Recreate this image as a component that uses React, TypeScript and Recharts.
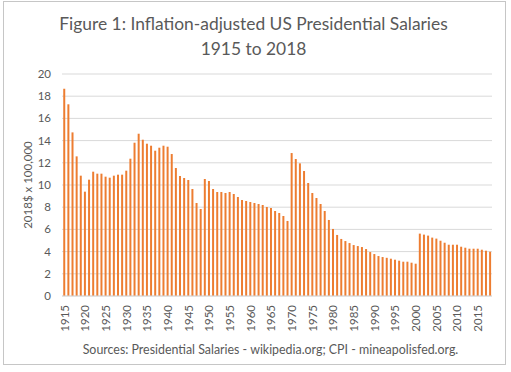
import React from 'react';
import { BarChart, Bar, XAxis, YAxis, CartesianGrid } from 'recharts';

const FIRST_YEAR = 1915;
const salaries1915to1944 = [
  18.68, 17.27, 14.74, 12.58, 10.84, 9.4, 10.48, 11.2, 11.02, 11.02,
  10.75, 10.66, 10.84, 10.93, 10.93, 11.29, 12.37, 13.81, 14.62, 14.08,
  13.72, 13.54, 13.09, 13.36, 13.54, 13.45, 12.79, 11.53, 10.81, 10.63,
];
const salaries1945to1974 = [
  10.45, 9.64, 8.38, 7.84, 10.54, 10.36, 9.64, 9.37, 9.37, 9.28,
  9.37, 9.19, 8.92, 8.65, 8.56, 8.47, 8.38, 8.29, 8.2, 8.02,
  7.93, 7.66, 7.48, 7.21, 6.76, 12.88, 12.34, 11.95, 11.26, 10.18,
];
const salaries1975to2004 = [
  9.28, 8.83, 8.29, 7.66, 6.85, 6.04, 5.5, 5.14, 4.95, 4.77,
  4.59, 4.5, 4.41, 4.23, 3.96, 3.78, 3.6, 3.51, 3.44, 3.36,
  3.27, 3.18, 3.09, 3.09, 3.0, 2.91, 5.62, 5.53, 5.44, 5.26,
];
const salaries2005to2018 = [
  5.17, 4.98, 4.8, 4.62, 4.62, 4.62, 4.44, 4.35, 4.26, 4.26,
  4.26, 4.17, 4.08, 3.99,
];
const salaries = [
  ...salaries1915to1944,
  ...salaries1945to1974,
  ...salaries1975to2004,
  ...salaries2005to2018,
];
const years = salaries.map((_, i) => FIRST_YEAR + i);
const xTicks = [1915, 1920, 1925, 1930, 1935, 1940, 1945, 1950, 1955, 1960, 1965, 1970, 1975, 1980, 1985, 1990, 1995, 2000, 2005, 2010, 2015];
const yTicks = [0, 2, 4, 6, 8, 10, 12, 14, 16, 18, 20];

const data = years.map((y, i) => ({ year: y, value: salaries[i] }));

const FONT = "Lato, 'Liberation Sans', Arial, sans-serif";
const TEXT = '#595959';

const XTick = (props: any) => {
  const { x, y, payload } = props;
  return (
    <text
      x={x}
      y={y}
      transform={`rotate(-90, ${x}, ${y})`}
      textAnchor="end"
      dominantBaseline="central"
      fontSize={11.5}
      fontFamily={FONT}
      fill={TEXT}
    >
      {payload.value}
    </text>
  );
};

export default function App() {
  return (
    <div style={{ position: 'absolute', left: 0, top: 0, width: 511, height: 372, background: '#fff', fontFamily: FONT }}>
      <div style={{ position: 'absolute', left: 3, top: 1, width: 503, height: 364, border: '1px solid #c6c6c6', boxSizing: 'border-box' }} />
      <div style={{ position: 'absolute', left: 0, top: 11, width: 507, textAlign: 'center', color: TEXT, fontSize: 17.4, lineHeight: '25px' }}>
        Figure 1: Inflation-adjusted US Presidential Salaries
        <br />
        1915 to 2018
      </div>
      <BarChart
        width={511}
        height={372}
        data={data}
        margin={{ top: 74, right: 19, bottom: 36, left: 22 }}
        barCategoryGap="30%"
        style={{ position: 'absolute', left: 0, top: 0 }}
      >
        <CartesianGrid vertical={false} stroke="#d9d9d9" />
        <XAxis
          dataKey="year"
          ticks={xTicks}
          interval={0}
          tick={<XTick />}
          tickLine={false}
          axisLine={{ stroke: '#d9d9d9' }}
          height={40}
          tickMargin={3}
        />
        <YAxis
          domain={[0, 20]}
          ticks={yTicks}
          interval={0}
          width={40}
          axisLine={false}
          tickLine={false}
          tickMargin={5}
          tick={{ fontSize: 11.5, fill: TEXT, fontFamily: FONT }}
        />
        <Bar dataKey="value" fill="#ED7D31" isAnimationActive={false} />
      </BarChart>
      <div
        style={{
          position: 'absolute',
          left: 28,
          top: 185,
          transform: 'translate(-50%, -50%) rotate(-90deg)',
          whiteSpace: 'nowrap',
          color: TEXT,
          fontSize: 11.5,
          lineHeight: '12px',
        }}
      >
        2018$ x 100,000
      </div>
      <div style={{ position: 'absolute', left: 0, top: 342, width: 541, textAlign: 'center', color: TEXT, fontSize: 12.4 }}>
        Sources: Presidential Salaries - wikipedia.org; CPI - mineapolisfed.org.
      </div>
    </div>
  );
}
